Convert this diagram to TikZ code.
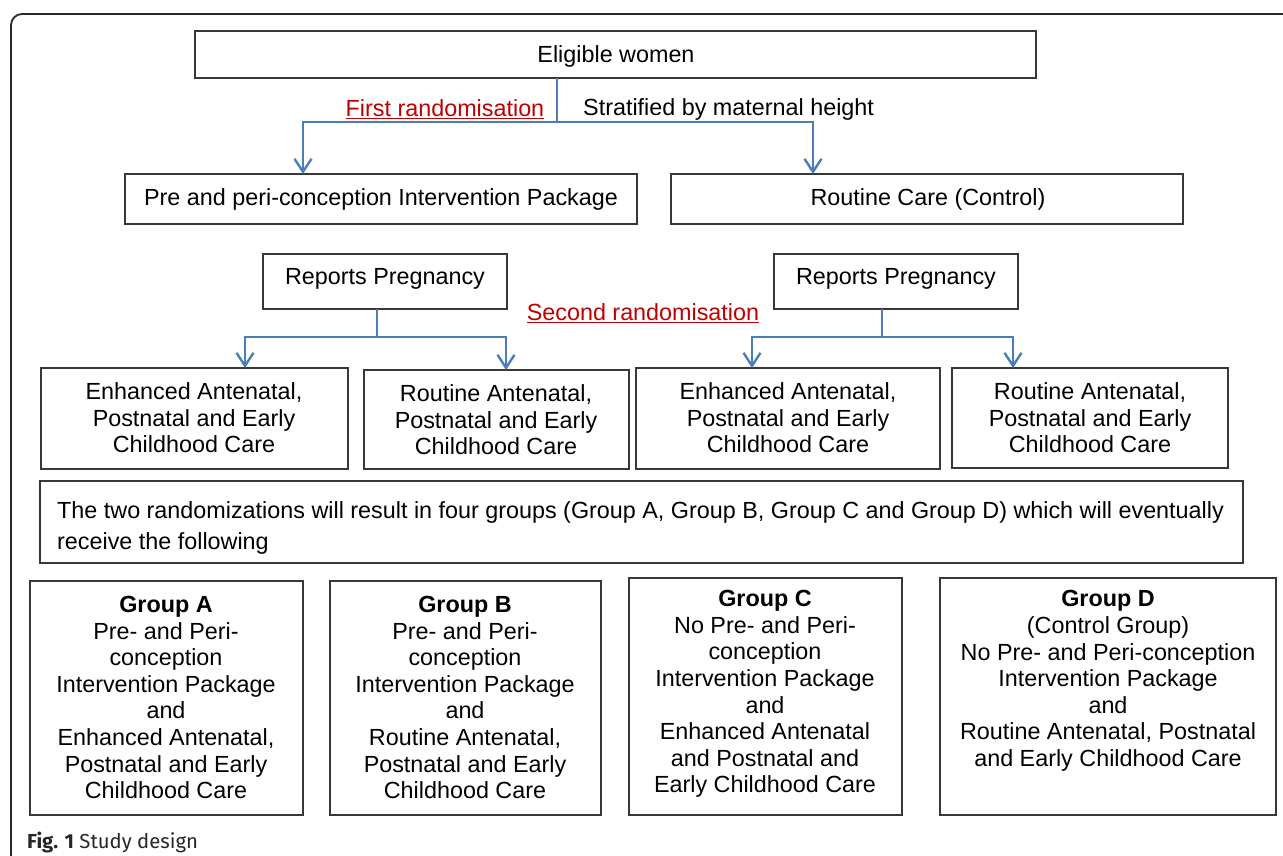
\documentclass[tikz,border=0pt]{standalone}
\usepackage{fontspec}
\setmainfont{Liberation Sans}
\newfontfamily\capfont{Fira Sans}
\usetikzlibrary{arrows.meta}
\definecolor{flowblue}{HTML}{4A7EBB}
\definecolor{randred}{HTML}{C00000}
\definecolor{boxgray}{HTML}{383838}
\definecolor{framegray}{HTML}{2A2A2A}
\begin{document}
\begin{tikzpicture}[x=1pt,y=-1pt,
  box/.style={draw=boxgray, line width=1.2pt, inner sep=0pt, outer sep=0pt},
  txt/.style={font=\fontsize{23.35}{26.6}\selectfont, align=center, inner sep=0pt},
  link/.style={draw=flowblue, line width=2.5pt},
  arr/.style={link, -{Straight Barb[length=13pt,width=17pt,line width=2.4pt]}}]
\useasboundingbox (0,0) rectangle (1283,856);
\fill[white] (0,0) rectangle (1283,856);
% frame
\draw[framegray, line width=1.8pt, rounded corners=11pt] (11,856) -- (11,14) -- (1283,14);

% boxes
\node[box, minimum width=841pt, minimum height=47pt] (elig) at (615.5,54.5) {};
\node[box, minimum width=512pt, minimum height=50pt] (pre) at (381,199) {};
\node[box, minimum width=512pt, minimum height=50pt] (rc) at (927,199) {};
\node[box, minimum width=244pt, minimum height=55pt] (rpL) at (385,281.5) {};
\node[box, minimum width=244pt, minimum height=55pt] (rpR) at (896,281.5) {};
\node[box, minimum width=307pt, minimum height=101pt] (eL) at (194.5,418.5) {};
\node[box, minimum width=265pt, minimum height=99pt] (rL) at (496.5,419.5) {};
\node[box, minimum width=304pt, minimum height=101pt] (eR) at (788,418.5) {};
\node[box, minimum width=276pt, minimum height=100pt] (rR) at (1090,418) {};
\node[box, minimum width=1203pt, minimum height=82pt] (note) at (641.5,522) {};
\node[box, minimum width=273pt, minimum height=234pt] (gA) at (166.5,698) {};
\node[box, minimum width=271pt, minimum height=234pt] (gB) at (465.5,698) {};
\node[box, minimum width=273pt, minimum height=237pt] (gC) at (765.5,696.5) {};
\node[box, minimum width=336pt, minimum height=237pt] (gD) at (1108,696.5) {};

% texts
\node[txt] (tElig) at (616,56) {Eligible women};
\node[txt, text=randred] (tR1) at (445,109) {\underline{First randomisation}};
\node[txt, anchor=west] (tStrat) at (583,109) {Stratified by maternal height};
\node[txt] (tPre) at (381,199) {Pre and peri-conception Intervention Package};
\node[txt] (tRc) at (928,199) {Routine Care (Control)};
\node[txt] (tRpL) at (385,279) {Reports Pregnancy};
\node[txt] (tRpR) at (896,279) {Reports Pregnancy};
\node[txt, text=randred] (tR2) at (643,313) {\underline{Second randomisation}};
\node[txt] (tEL) at (194,418) {Enhanced Antenatal,\\Postnatal and Early\\Childhood Care};
\node[txt] (tRL) at (496,420) {Routine Antenatal,\\Postnatal and Early\\Childhood Care};
\node[txt] (tER) at (788,418) {Enhanced Antenatal,\\Postnatal and Early\\Childhood Care};
\node[txt] (tRR) at (1090,418) {Routine Antenatal,\\Postnatal and Early\\Childhood Care};
\node[txt, align=left, anchor=west, font=\fontsize{23.35}{31}\selectfont] (tNote) at (57,528) {The two randomizations will result in four groups (Group A, Group B, Group C and Group D) which will eventually\\receive the following};
\node[txt] (tA) at (166,697.5) {\textbf{Group A}\\Pre- and Peri-\\conception\\Intervention Package\\and\\Enhanced Antenatal,\\Postnatal and Early\\Childhood Care};
\node[txt] (tB) at (465,697.5) {\textbf{Group B}\\Pre- and Peri-\\conception\\Intervention Package\\and\\Routine Antenatal,\\Postnatal and Early\\Childhood Care};
\node[txt] (tC) at (765,694) {\textbf{Group C}\\No Pre- and Peri-\\conception\\Intervention Package\\and\\Enhanced Antenatal\\and Postnatal and\\Early Childhood Care};
\node[txt] (tD) at (1108,681) {\textbf{Group D}\\(Control Group)\\No Pre- and Peri-conception\\Intervention Package\\and\\Routine Antenatal, Postnatal\\and Early Childhood Care};

% connectors
\coordinate (j1) at (557,122);
\coordinate (x1) at (303,0);
\coordinate (x2) at (813,0);
\draw[link] (elig.south -| j1) -- (j1);
\draw[arr] (j1) -| (pre.north -| x1);
\draw[arr] (j1) -| (rc.north -| x2);

\coordinate (j2) at (377,337);
\coordinate (x3) at (245,0);
\coordinate (x4) at (506,0);
\draw[link] (rpL.south -| j2) -- (j2);
\draw[arr] (j2) -| (eL.north -| x3);
\draw[arr] (j2) -| (rL.north -| x4);

\coordinate (j3) at (882,337);
\coordinate (x5) at (752,0);
\coordinate (x6) at (1013,0);
\draw[link] (rpR.south -| j3) -- (j3);
\draw[arr] (j3) -| (eR.north -| x5);
\draw[arr] (j3) -| (rR.north -| x6);

% caption
\node[anchor=base west, inner sep=0pt, text=black!85, font=\capfont\fontsize{20.3}{24}\selectfont] (cap) at (27,848) {\textbf{Fig. 1} Study design};
\end{tikzpicture}
\end{document}
